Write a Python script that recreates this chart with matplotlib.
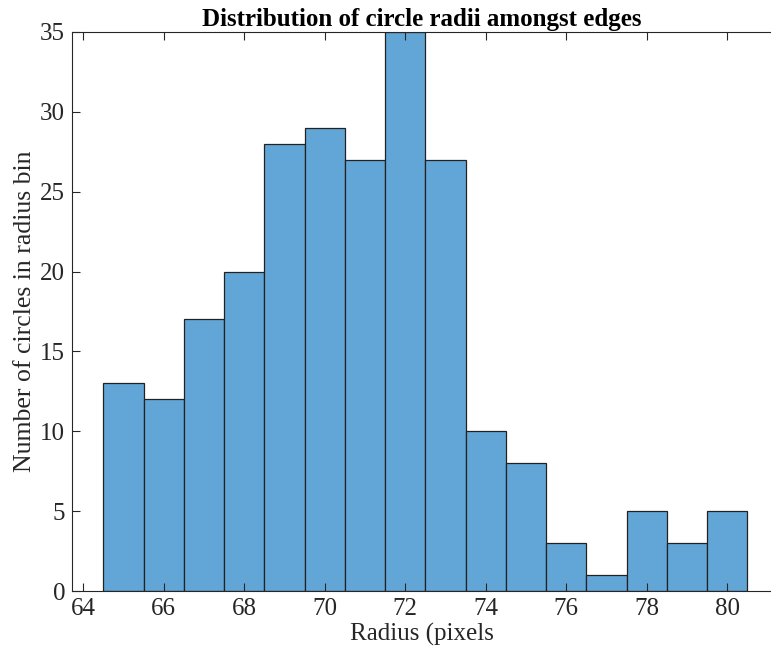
import numpy as np
import matplotlib
matplotlib.use("Agg")
import matplotlib.pyplot as plt

# bin edges and counts
bin_edges = [64.5, 65.5, 66.5, 67.5, 68.5, 69.5, 70.5, 71.5, 72.5,
             73.5, 74.5, 75.5, 76.5, 77.5, 78.5, 79.5, 80.5]
counts = [13, 12, 17, 20, 28, 29, 27, 35, 27, 10, 8, 3, 1, 5, 3, 5]
x_ticks = [64, 66, 68, 70, 72, 74, 76, 78, 80]
y_ticks = [0, 5, 10, 15, 20, 25, 30, 35]

plt.rcParams["font.family"] = ["Liberation Serif", "DejaVu Serif"]

fig = plt.figure(figsize=(7.71, 6.56), dpi=100)
ax = fig.add_axes([72 / 771, 1 - 591 / 656, 1 - 72 / 771, (591 - 32) / 656])

face = (0.38, 0.65, 0.84)
ax.bar(bin_edges[:-1], counts, width=np.diff(bin_edges), align="edge",
       facecolor=face, edgecolor="#222222", linewidth=0.9, zorder=1)

ax.set_xlim(63.72, 81.09)
ax.set_ylim(0, 35)
ax.set_xticks(x_ticks)
ax.set_yticks(y_ticks)

axis_col = "#262626"
for side in ["left", "bottom", "top"]:
    ax.spines[side].set_color(axis_col)
    ax.spines[side].set_linewidth(0.8)
    ax.spines[side].set_zorder(3)
ax.spines["right"].set_visible(False)
ax.tick_params(direction="in", length=6, width=0.8, color=axis_col,
               labelsize=18, labelcolor="#262626", top=True, pad=5)
ax.set_axisbelow(False)

ax.set_title("Distribution of circle radii amongst edges", fontsize=18,
             fontweight="bold", pad=4)
ax.set_xlabel("Radius (pixels", fontsize=18, color="#262626", labelpad=2)
ax.set_ylabel("Number of circles in radius bin", fontsize=18.5, color="#262626",
              labelpad=3)

fig.savefig("out.png", dpi=100)
